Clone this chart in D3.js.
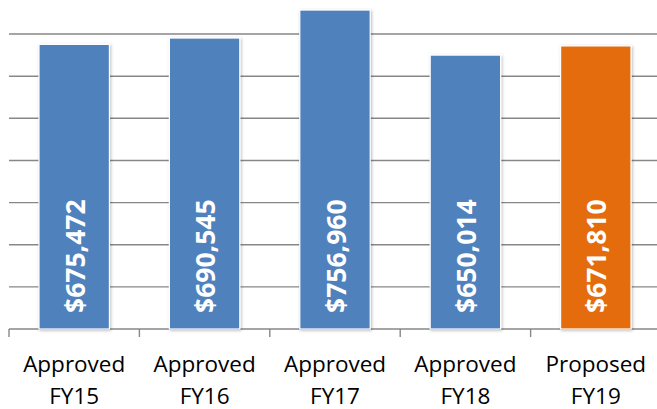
<!DOCTYPE html>
<html>
<head>
<meta charset="utf-8">
<script src="https://cdn.jsdelivr.net/npm/d3@7/dist/d3.min.js"></script>
<style>
  html, body { margin: 0; padding: 0; background: #fff; }
  svg { display: block; }
</style>
</head>
<body>
<svg id="chart" width="657" height="409"></svg>
<script>
// Budget by fiscal year
const categories = [["Approved", "FY15"], ["Approved", "FY16"], ["Approved", "FY17"], ["Approved", "FY18"], ["Proposed", "FY19"]];
const values = [675472, 690545, 756960, 650014, 671810];
const barColors = ["#4F81BD", "#4F81BD", "#4F81BD", "#4F81BD", "#E46C0A"];
const gridValues = [100000, 200000, 300000, 400000, 500000, 600000, 700000];

const svg = d3.select("#chart");
const plot = { left: 9, right: 661, top: -8.1, bottom: 329 };

const x = d3.scaleBand()
  .domain(d3.range(categories.length))
  .range([plot.left, plot.right])
  .paddingInner(0.46)
  .paddingOuter(0.23);

const y = d3.scaleLinear()
  .domain([0, 800000])
  .range([plot.bottom, plot.top]);

const step = x.step();

// soft shadow behind the bars
const defs = svg.append("defs");
const f = defs.append("filter").attr("id", "shadow")
  .attr("x", "-20%").attr("y", "-20%").attr("width", "140%").attr("height", "140%");
f.append("feDropShadow").attr("dx", 1).attr("dy", 1)
  .attr("stdDeviation", 1.6).attr("flood-color", "#000").attr("flood-opacity", 0.28);

// horizontal gridlines
svg.append("g").selectAll("line").data(gridValues).join("line")
  .attr("x1", plot.left).attr("x2", plot.right)
  .attr("y1", d => y(d)).attr("y2", d => y(d))
  .attr("stroke", "#878787").attr("stroke-width", 1.4);

// category axis with boundary ticks
const axisG = svg.append("g");
axisG.append("line")
  .attr("x1", plot.left).attr("x2", plot.right)
  .attr("y1", y(0)).attr("y2", y(0))
  .attr("stroke", "#878787").attr("stroke-width", 1.4);
axisG.selectAll("line.tick").data(d3.range(categories.length + 1)).join("line")
  .attr("class", "tick")
  .attr("x1", i => plot.left + i * step).attr("x2", i => plot.left + i * step)
  .attr("y1", y(0)).attr("y2", y(0) + 8)
  .attr("stroke", "#878787").attr("stroke-width", 1.4);

// bars
svg.append("g").selectAll("rect").data(values).join("rect")
  .attr("x", (d, i) => x(i))
  .attr("width", x.bandwidth())
  .attr("y", d => y(d))
  .attr("height", d => y(0) - y(d))
  .attr("fill", (d, i) => barColors[i])
  .attr("stroke", "#fff").attr("stroke-width", 1.2)
  .attr("filter", "url(#shadow)");

// value labels, rotated, anchored at the bar base
const fmt = d3.format("$,");
svg.append("g").selectAll("text").data(values).join("text")
  .attr("transform", (d, i) => `translate(${x(i) + x.bandwidth() / 2 + 10.5},${y(0) - 16}) rotate(-90)`)
  .attr("text-anchor", "start")
  .attr("font-family", "'Open Sans', 'DejaVu Sans', sans-serif")
  .attr("font-weight", 700)
  .attr("font-size", 26.5)
  .attr("fill", "#fff")
  .text(d => fmt(d));

// category labels
const lab = svg.append("g").selectAll("text").data(categories).join("text")
  .attr("text-anchor", "middle")
  .attr("font-family", "'Open Sans', 'DejaVu Sans', sans-serif")
  .attr("font-size", 22.5)
  .attr("fill", "#000");
lab.append("tspan").attr("x", (d, i) => x(i) + x.bandwidth() / 2).attr("y", 372).text(d => d[0]);
lab.append("tspan").attr("x", (d, i) => x(i) + x.bandwidth() / 2).attr("y", 403.5).text(d => d[1]);
</script>
</body>
</html>
